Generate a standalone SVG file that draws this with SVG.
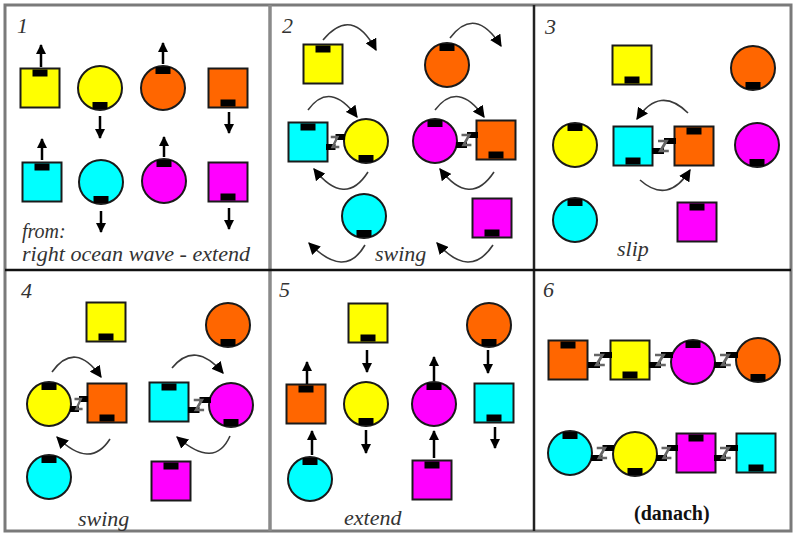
<svg xmlns="http://www.w3.org/2000/svg" xmlns:xlink="http://www.w3.org/1999/xlink" width="794" height="533" viewBox="0 0 794 533">
<style>
  .lbl{font-family:"Liberation Serif","DejaVu Serif","Times New Roman",serif;font-style:italic;font-size:22px;fill:#333}
  .sm{font-size:20px}
  .num{font-family:"Liberation Serif","DejaVu Serif","Times New Roman",serif;font-style:italic;font-size:22px;fill:#333}
  .bold{font-family:"Liberation Serif","DejaVu Serif","Times New Roman",serif;font-weight:bold;font-size:20px;fill:#111}
  .arr{stroke:#000;stroke-width:2.5;fill:none}
  .arc{stroke:#3a3a3a;stroke-width:1.6;fill:none}
  .frame{fill:none}
</style>
<defs>
  <marker id="ah" viewBox="0 0 10 10" refX="9" refY="5" markerWidth="10" markerHeight="10" markerUnits="userSpaceOnUse" orient="auto">
    <path d="M0,0 L10,5 L0,10 z" fill="#000"/>
  </marker>
  <marker id="ah2" viewBox="0 0 10 10" refX="9" refY="5" markerWidth="12" markerHeight="12" markerUnits="userSpaceOnUse" orient="auto">
    <path d="M0,0 L10,5 L0,10 z" fill="#000"/>
  </marker>
  <g id="sqT"><rect x="-19.5" y="-19.5" width="39" height="39" stroke="#1a1a1a" stroke-width="2"/><rect x="-7.5" y="-18.5" width="15" height="7" fill="#000"/></g>
  <g id="sqB"><rect x="-19.5" y="-19.5" width="39" height="39" stroke="#1a1a1a" stroke-width="2"/><rect x="-7.5" y="11.5" width="15" height="7" fill="#000"/></g>
  <g id="ciT"><circle r="22" stroke="#1a1a1a" stroke-width="2"/><rect x="-7.5" y="-21" width="15" height="7" fill="#000"/></g>
  <g id="ciB"><circle r="22" stroke="#1a1a1a" stroke-width="2"/><rect x="-7.5" y="14" width="15" height="7" fill="#000"/></g>
  <symbol id="link" viewBox="0 0 20 20" preserveAspectRatio="none">
    <rect x="0" y="12" width="10" height="6" fill="#000"/>
    <rect x="10" y="2" width="10" height="6" fill="#000"/>
    <path d="M5,5 H12 L7,15 H14" stroke="#666" stroke-width="2.5" fill="none"/>
  </symbol>
</defs>
<rect width="794" height="533" fill="#fff"/>

<g id="frame">
  <rect class="frame" x="5" y="5" width="786" height="526" stroke="#7a7a7a" stroke-width="3"/>
  <line x1="270" y1="5" x2="270" y2="531" stroke="#8a8a8a" stroke-width="3.5"/>
  <line x1="534" y1="5" x2="534" y2="531" stroke="#222" stroke-width="2.5"/>
  <line x1="5" y1="270" x2="791" y2="270" stroke="#111" stroke-width="2.5"/>
</g>

<g id="labels">
  <text class="num" x="17" y="33">1</text>
  <text class="num" x="282" y="33">2</text>
  <text class="num" x="545" y="34">3</text>
  <text class="num" x="21" y="298">4</text>
  <text class="num" x="279" y="297">5</text>
  <text class="num" x="543" y="297">6</text>
  <text class="lbl sm" x="22" y="238">from:</text>
  <text class="lbl sm" x="22" y="261" textLength="228" lengthAdjust="spacingAndGlyphs">right ocean wave - extend</text>
  <text class="lbl" x="375" y="261">swing</text>
  <text class="lbl" x="617" y="256">slip</text>
  <text class="lbl" x="78" y="526">swing</text>
  <text class="lbl" x="344" y="525">extend</text>
  <text class="bold" x="634" y="520">(danach)</text>
</g>

<!-- Panel 1 -->
<g id="p1-yellow-sq"><use href="#sqT" fill="#ffff00" transform="translate(40,88)"/></g>
<g id="p1-yellow-ci"><use href="#ciB" fill="#ffff00" transform="translate(100,88)"/></g>
<g id="p1-orange-ci"><use href="#ciT" fill="#ff6600" transform="translate(163,88)"/></g>
<g id="p1-orange-sq"><use href="#sqB" fill="#ff6600" transform="translate(228,88)"/></g>
<g id="p1-cyan-sq"><use href="#sqT" fill="#00ffff" transform="translate(42,182)"/></g>
<g id="p1-cyan-ci"><use href="#ciB" fill="#00ffff" transform="translate(101,182)"/></g>
<g id="p1-magenta-ci"><use href="#ciT" fill="#ff00ff" transform="translate(164,181)"/></g>
<g id="p1-magenta-sq"><use href="#sqB" fill="#ff00ff" transform="translate(228,182)"/></g>

<!-- Panel 2 -->
<g id="p2-yellow-sq"><use href="#sqT" fill="#ffff00" transform="translate(323,64)"/></g>
<g id="p2-orange-ci"><use href="#ciT" fill="#ff6600" transform="translate(447,65)"/></g>
<g id="p2-cyan-sq"><use href="#sqT" fill="#00ffff" transform="translate(308,142)"/></g>
<g id="p2-yellow-ci"><use href="#ciB" fill="#ffff00" transform="translate(366,141)"/></g>
<g id="p2-magenta-ci"><use href="#ciT" fill="#ff00ff" transform="translate(435,141)"/></g>
<g id="p2-orange-sq"><use href="#sqB" fill="#ff6600" transform="translate(496,140)"/></g>
<g id="p2-cyan-ci"><use href="#ciB" fill="#00ffff" transform="translate(364,216)"/></g>
<g id="p2-magenta-sq"><use href="#sqB" fill="#ff00ff" transform="translate(492,218)"/></g>

<!-- Panel 3 -->
<g id="p3-yellow-sq"><use href="#sqB" fill="#ffff00" transform="translate(632,65)"/></g>
<g id="p3-orange-ci"><use href="#ciB" fill="#ff6600" transform="translate(753,68)"/></g>
<g id="p3-yellow-ci"><use href="#ciT" fill="#ffff00" transform="translate(575,145)"/></g>
<g id="p3-cyan-sq"><use href="#sqB" fill="#00ffff" transform="translate(633,146)"/></g>
<g id="p3-orange-sq"><use href="#sqT" fill="#ff6600" transform="translate(694,146)"/></g>
<g id="p3-magenta-ci"><use href="#ciB" fill="#ff00ff" transform="translate(757,145)"/></g>
<g id="p3-cyan-ci"><use href="#ciT" fill="#00ffff" transform="translate(575,220)"/></g>
<g id="p3-magenta-sq"><use href="#sqT" fill="#ff00ff" transform="translate(697,222)"/></g>

<!-- Panel 4 -->
<g id="p4-yellow-sq"><use href="#sqB" fill="#ffff00" transform="translate(106,322)"/></g>
<g id="p4-orange-ci"><use href="#ciB" fill="#ff6600" transform="translate(228,325)"/></g>
<g id="p4-yellow-ci"><use href="#ciT" fill="#ffff00" transform="translate(49,404)"/></g>
<g id="p4-orange-sq"><use href="#sqB" fill="#ff6600" transform="translate(107,403)"/></g>
<g id="p4-cyan-sq"><use href="#sqT" fill="#00ffff" transform="translate(169,402)"/></g>
<g id="p4-magenta-ci"><use href="#ciB" fill="#ff00ff" transform="translate(231,405)"/></g>
<g id="p4-cyan-ci"><use href="#ciT" fill="#00ffff" transform="translate(49,477)"/></g>
<g id="p4-magenta-sq"><use href="#sqT" fill="#ff00ff" transform="translate(171,481)"/></g>

<!-- Panel 5 -->
<g id="p5-yellow-sq"><use href="#sqB" fill="#ffff00" transform="translate(368,323)"/></g>
<g id="p5-orange-ci"><use href="#ciB" fill="#ff6600" transform="translate(489,325)"/></g>
<g id="p5-orange-sq"><use href="#sqT" fill="#ff6600" transform="translate(306,404)"/></g>
<g id="p5-yellow-ci"><use href="#ciB" fill="#ffff00" transform="translate(366,404)"/></g>
<g id="p5-magenta-ci"><use href="#ciT" fill="#ff00ff" transform="translate(434,404)"/></g>
<g id="p5-cyan-sq"><use href="#sqB" fill="#00ffff" transform="translate(494,403)"/></g>
<g id="p5-cyan-ci"><use href="#ciT" fill="#00ffff" transform="translate(310,479)"/></g>
<g id="p5-magenta-sq"><use href="#sqT" fill="#ff00ff" transform="translate(432,480)"/></g>

<!-- Panel 6 -->
<g id="p6-orange-sq"><use href="#sqT" fill="#ff6600" transform="translate(568,360)"/></g>
<g id="p6-yellow-sq"><use href="#sqB" fill="#ffff00" transform="translate(630,360)"/></g>
<g id="p6-magenta-ci"><use href="#ciT" fill="#ff00ff" transform="translate(693,362)"/></g>
<g id="p6-orange-ci"><use href="#ciB" fill="#ff6600" transform="translate(758,360)"/></g>
<g id="p6-cyan-ci"><use href="#ciT" fill="#00ffff" transform="translate(570,453)"/></g>
<g id="p6-yellow-ci"><use href="#ciB" fill="#ffff00" transform="translate(635,454)"/></g>
<g id="p6-magenta-sq"><use href="#sqT" fill="#ff00ff" transform="translate(696,453)"/></g>
<g id="p6-cyan-sq"><use href="#sqB" fill="#00ffff" transform="translate(756,453)"/></g>

<g id="connectors">
  <!-- panel 1 straight arrows -->
  <line class="arr" x1="41" y1="67" x2="41" y2="45" marker-end="url(#ah)"/>
  <line class="arr" x1="100" y1="116" x2="100" y2="138" marker-end="url(#ah)"/>
  <line class="arr" x1="163" y1="64" x2="163" y2="43" marker-end="url(#ah)"/>
  <line class="arr" x1="229" y1="112" x2="229" y2="133" marker-end="url(#ah)"/>
  <line class="arr" x1="42" y1="160" x2="42" y2="139" marker-end="url(#ah)"/>
  <line class="arr" x1="101" y1="211" x2="101" y2="232" marker-end="url(#ah)"/>
  <line class="arr" x1="164" y1="157" x2="164" y2="137" marker-end="url(#ah)"/>
  <line class="arr" x1="229" y1="208" x2="229" y2="229" marker-end="url(#ah)"/>
  <!-- panel 2 arcs -->
  <path class="arc" d="M323,40 Q352,5 376,50" marker-end="url(#ah2)"/>
  <path class="arc" d="M450,38 Q475,5 501,46" marker-end="url(#ah2)"/>
  <path class="arc" d="M308,110 Q330,80 357,117" marker-end="url(#ah2)"/>
  <path class="arc" d="M368,172 Q345,208 314,169" marker-end="url(#ah2)"/>
  <path class="arc" d="M435,110 Q458,80 484,117" marker-end="url(#ah2)"/>
  <path class="arc" d="M494,172 Q470,208 440,169" marker-end="url(#ah2)"/>
  <path class="arc" d="M365,245 Q345,280 309,243" marker-end="url(#ah2)"/>
  <path class="arc" d="M493,245 Q470,280 437,243" marker-end="url(#ah2)"/>
  <use href="#link" x="326" y="132" width="19" height="20"/>
  <use href="#link" x="456" y="130" width="22" height="20"/>
  <!-- panel 3 -->
  <path class="arc" d="M688,113 Q660,85 637,119" marker-end="url(#ah2)"/>
  <path class="arc" d="M640,180 Q668,205 690,170" marker-end="url(#ah2)"/>
  <use href="#link" x="652" y="136" width="24" height="20"/>
  <!-- panel 4 -->
  <path class="arc" d="M52,372 Q75,340 101,377" marker-end="url(#ah2)"/>
  <path class="arc" d="M110,439 Q90,470 57,437" marker-end="url(#ah2)"/>
  <path class="arc" d="M172,368 Q195,340 223,373" marker-end="url(#ah2)"/>
  <path class="arc" d="M230,436 Q215,470 177,437" marker-end="url(#ah2)"/>
  <use href="#link" x="70" y="394" width="18" height="20"/>
  <use href="#link" x="188" y="395" width="23" height="20"/>
  <!-- panel 5 straight arrows -->
  <line class="arr" x1="367" y1="350" x2="367" y2="372" marker-end="url(#ah)"/>
  <line class="arr" x1="488" y1="350" x2="488" y2="373" marker-end="url(#ah)"/>
  <line class="arr" x1="307" y1="384" x2="307" y2="362" marker-end="url(#ah)"/>
  <line class="arr" x1="366" y1="430" x2="366" y2="453" marker-end="url(#ah)"/>
  <line class="arr" x1="434" y1="381" x2="434" y2="357" marker-end="url(#ah)"/>
  <line class="arr" x1="495" y1="427" x2="495" y2="448" marker-end="url(#ah)"/>
  <line class="arr" x1="312" y1="455" x2="312" y2="431" marker-end="url(#ah)"/>
  <line class="arr" x1="434" y1="458" x2="434" y2="431" marker-end="url(#ah)"/>
  <!-- panel 6 hand links -->
  <use href="#link" x="588" y="350" width="24" height="20"/>
  <use href="#link" x="649" y="350" width="24" height="20"/>
  <use href="#link" x="714" y="350" width="24" height="20"/>
  <use href="#link" x="591" y="443" width="23" height="20"/>
  <use href="#link" x="656" y="443" width="22" height="20"/>
  <use href="#link" x="714" y="443" width="24" height="20"/>
</g>
</svg>
